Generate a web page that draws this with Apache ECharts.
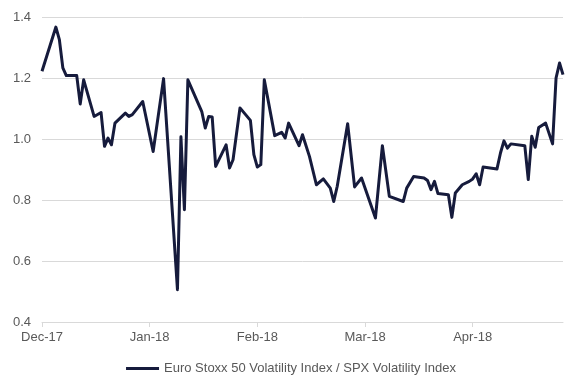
<!DOCTYPE html>
<html>
<head>
<meta charset="utf-8">
<script src="https://cdn.jsdelivr.net/npm/echarts@6/dist/echarts.min.js"></script>
<style>
html,body{margin:0;padding:0;background:#fff;}
#chart{width:582px;height:390px;}
</style>
</head>
<body>
<div id="chart"></div>
<script>
// Tick labels shown every 31 days starting at 1 Dec 2017
const tickLabels = ['Dec-17', 'Jan-18', 'Feb-18', 'Mar-18', 'Apr-18'];
const dayCount = 151; // 1 Dec 2017 .. 30 Apr 2018
const labelEvery = 31;
// Observation day offsets (days since 1 Dec 2017) and ratio values
const obsDay = [0,4,5,6,7,10,11,12,15,17,18,19,20,21,24,25,26,29,32,35,39,40,41,42,46,47,48,49,50,53,54,55,57,60,61,62,63,64,67,69,70,71,74,75,77,79,81,83,84,85,88,90,92,96,98,100,104,105,107,110,111,112,113,114,117,118,119,121,123,124,125,126,127,129,131,132,133,134,135,139,140,141,142,143,145,147,148,149,150];
const ratio = [1.222,1.367,1.326,1.233,1.208,1.208,1.115,1.194,1.074,1.087,0.976,1.003,0.981,1.052,1.085,1.074,1.080,1.123,0.959,1.198,0.506,1.007,0.768,1.194,1.090,1.036,1.074,1.072,0.910,0.981,0.905,0.932,1.102,1.061,0.949,0.908,0.916,1.194,1.011,1.022,1.003,1.052,0.978,1.014,0.943,0.850,0.869,0.839,0.795,0.845,1.050,0.843,0.872,0.741,0.978,0.812,0.795,0.839,0.877,0.872,0.864,0.834,0.861,0.821,0.817,0.743,0.823,0.850,0.861,0.869,0.886,0.850,0.908,0.905,0.902,0.954,0.994,0.970,0.984,0.978,0.867,1.009,0.973,1.038,1.052,0.984,1.200,1.249,1.211];
const seriesName = 'Euro Stoxx 50 Volatility Index / SPX Volatility Index';

const categories = [];
const values = [];
for (let i = 0; i < dayCount; i++) { categories.push(i); values.push(null); }
obsDay.forEach((d, k) => { values[d] = ratio[k]; });

const chart = echarts.init(document.getElementById('chart'), null, {renderer: 'canvas'});
const txt = '#595959';
const font = '"Liberation Sans", Arial, sans-serif';
chart.setOption({
  animation: false,
  backgroundColor: '#ffffff',
  grid: {left: 42, right: 19, top: 17, bottom: 68, containLabel: false},
  legend: {
    data: [seriesName],
    left: 'center',
    top: 357,
    icon: 'rect',
    itemWidth: 33,
    itemHeight: 3,
    textStyle: {color: txt, fontSize: 13, fontFamily: font}
  },
  xAxis: {
    type: 'category',
    data: categories,
    boundaryGap: false,
    axisLine: {show: true, lineStyle: {color: '#d9d9d9', width: 1}},
    axisTick: {show: true, interval: labelEvery - 1, length: 5, lineStyle: {color: '#d9d9d9'}},
    axisLabel: {
      interval: labelEvery - 1,
      margin: 9,
      color: txt, fontSize: 13, fontFamily: font,
      formatter: function (v, idx) { return tickLabels[Math.round(idx / labelEvery)] || ''; }
    },
    splitLine: {show: false}
  },
  yAxis: {
    type: 'value',
    min: 0.4, max: 1.4, interval: 0.2,
    axisLine: {show: false},
    axisTick: {show: false},
    axisLabel: {color: txt, fontSize: 13, fontFamily: font, margin: 11,
      formatter: function (v) { return v.toFixed(1); }},
    splitLine: {lineStyle: {color: '#d9d9d9', width: 1}}
  },
  series: [{
    name: seriesName,
    type: 'line',
    data: values,
    connectNulls: true,
    symbol: 'none',
    lineStyle: {color: '#161b3c', width: 3, join: 'round'},
    itemStyle: {color: '#161b3c'}
  }]
});
</script>
</body>
</html>
